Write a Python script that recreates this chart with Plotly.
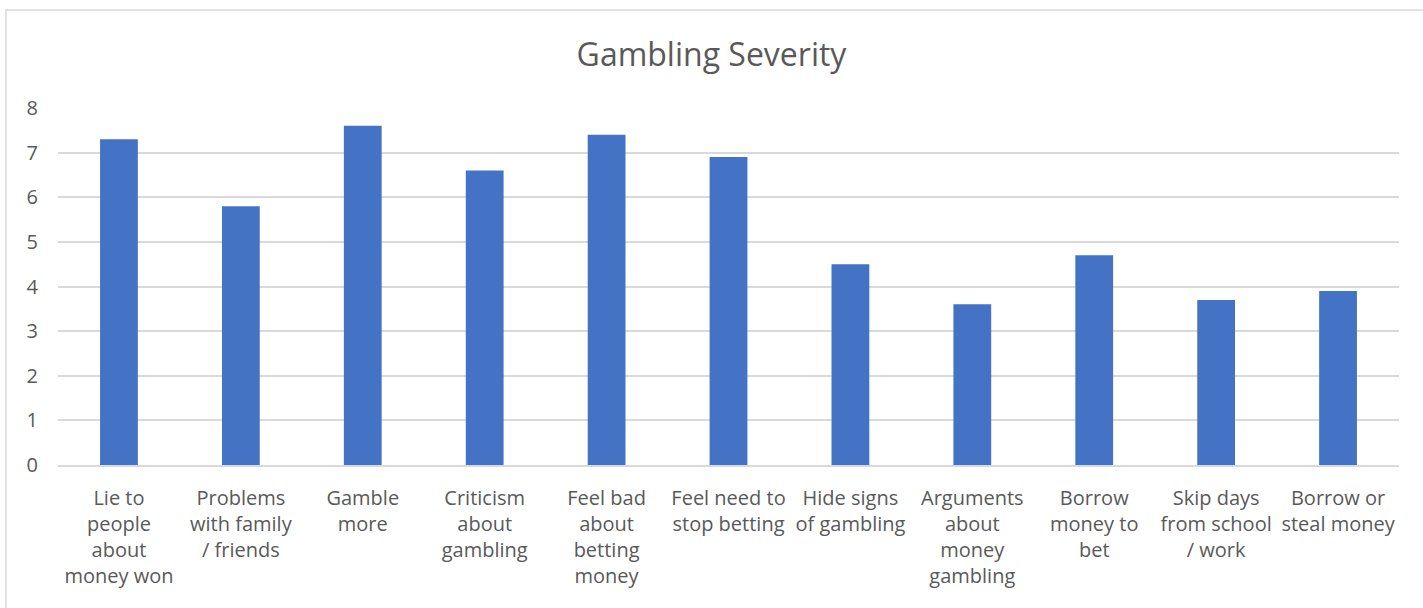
import plotly.graph_objects as go

categories = [
    "Lie to<br>people<br>about<br>money won",
    "Problems<br>with family<br>/ friends",
    "Gamble<br>more",
    "Criticism<br>about<br>gambling",
    "Feel bad<br>about<br>betting<br>money",
    "Feel need to<br>stop betting",
    "Hide signs<br>of gambling",
    "Arguments<br>about<br>money<br>gambling",
    "Borrow<br>money to<br>bet",
    "Skip days<br>from school<br>/ work",
    "Borrow or<br>steal money",
]
values = [7.3, 5.8, 7.6, 6.6, 7.4, 6.9, 4.5, 3.6, 4.7, 3.7, 3.9]
y_ticks = [0, 1, 2, 3, 4, 5, 6, 7, 8]

FONT = "Open Sans"
TXT = "#595959"

W, H = 1423, 608
L, R, T, B = 58, 24, 108, 143

fig = go.Figure(
    go.Bar(x=list(range(len(categories))), y=values, marker_color="#4472C4",
           marker_line_width=0, width=0.31)
)

fig.update_layout(
    width=W, height=H,
    margin=dict(l=L, r=R, t=T, b=B),
    paper_bgcolor="white", plot_bgcolor="white",
    showlegend=False,
    title=dict(text="Gambling Severity", x=0.5, xanchor="center", y=1 - 55 / H, yanchor="middle",
               font=dict(family=FONT, size=32, color=TXT)),
    font=dict(family=FONT, color=TXT),
)
fig.update_xaxes(
    tickmode="array", tickvals=list(range(len(categories))), ticktext=categories,
    range=[-0.5, len(categories) - 0.5],
    showgrid=False, showline=True, linecolor="#d9d9d9", linewidth=1.5,
    ticks="", tickfont=dict(family=FONT, size=20, color=TXT), tickangle=0,
    ticklabelstandoff=14,
)
fig.update_yaxes(
    range=[0, 8], tickvals=y_ticks, showgrid=True, gridcolor="#d9d9d9", gridwidth=1.5,
    zeroline=False, showline=False, ticks="",
    tickfont=dict(family=FONT, size=20, color=TXT), ticklabelstandoff=19,
)
pw = W - L - R
ph = H - T - B
fig.add_shape(type="rect", xref="paper", yref="paper",
              x0=(6 - L) / pw, x1=1.05, y0=-0.6, y1=1 + (T - 10) / ph,
              line=dict(color="#d9d9d9", width=1.5), fillcolor="rgba(0,0,0,0)", layer="below")

fig.write_html("out.html", config={"displayModeBar": False},
               post_script="document.body.style.margin='0';")
